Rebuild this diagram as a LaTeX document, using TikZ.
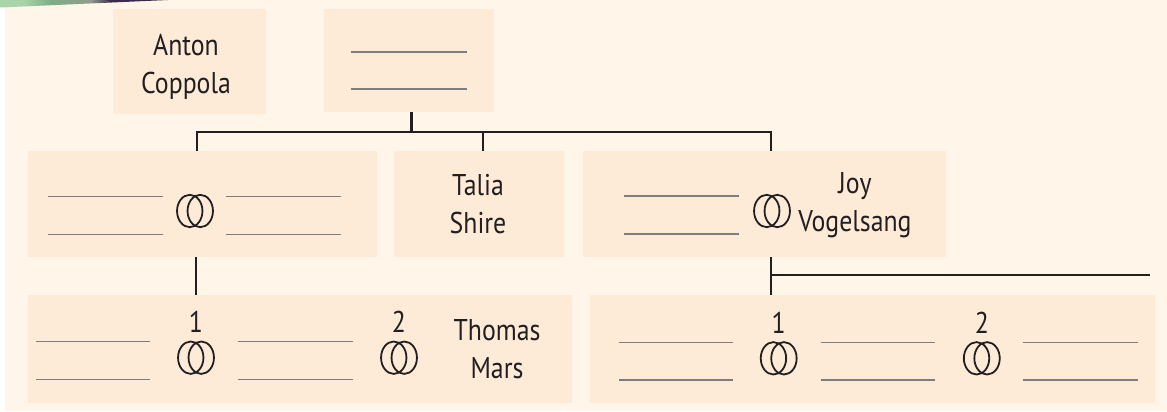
\documentclass[tikz,border=0pt]{standalone}
\usepackage{fontspec}
\setmainfont{PT Sans}[FakeStretch=0.86]
\usetikzlibrary{fit}

\definecolor{paper}{HTML}{FFF5E9}
\definecolor{panel}{HTML}{FDEBD8}
\definecolor{ink}{HTML}{231F20}
\definecolor{rulegray}{HTML}{7D7D7D}
\definecolor{leafA}{HTML}{A9D3A8}
\definecolor{leafB}{HTML}{7FAE86}
\definecolor{leafC}{HTML}{8F9C8C}
\definecolor{plum}{HTML}{3B2C4C}
\definecolor{plumfade}{HTML}{B9AEB8}

\pgfdeclarehorizontalshading{photostrip}{100bp}{%
  color(0bp)=(leafA); color(32bp)=(leafA); color(40bp)=(leafB);
  color(52bp)=(leafC); color(58bp)=(plum); color(88bp)=(plum);
  color(100bp)=(plumfade)}

\newcommand\namefont{\fontsize{30}{38}\selectfont}
% two lines with fixed top/bottom struts so the box centre is predictable
\newcommand\twolines[2]{\rule{0pt}{25pt}#1\\#2\rule[-9pt]{0pt}{9pt}}

\begin{document}
\begin{tikzpicture}[x=1pt,y=-1pt,
  panelbox/.style={fill=panel, draw=none, inner sep=0pt},
  personname/.style={inner sep=0pt, align=center, text=ink, font=\namefont},
  conn/.style={draw=ink, line width=2.3pt},
  blankline/.style={draw=rulegray, line width=1.5pt},
  ringline/.style={draw=ink, line width=1.8pt},
  rings/.pic={
    \draw[ringline] (-5.25pt,0pt) ellipse [x radius=12.7pt, y radius=16.2pt];
    \draw[ringline] (5.25pt,0pt) ellipse [x radius=12.7pt, y radius=16.2pt];
  }]

% page
\fill[paper] (0,0) rectangle (1167,412);
\useasboundingbox (0,0) rectangle (1167,412);
\fill[white] (0,0) rectangle (5,412);
\fill[white] (0,411) rectangle (1167,412);
\shade[shading=photostrip] (0,0) -- (168,0) -- (0,7.5) -- cycle;

% panels
\node[panelbox, fit={(113,9) (266,114)}] (A) {};
\node[panelbox, fit={(324,9) (494,112)}] (B) {};
\node[panelbox, fit={(27.5,151) (377,256.7)}] (C) {};
\node[panelbox, fit={(394,151) (564,256.7)}] (D) {};
\node[panelbox, fit={(583,151) (946,256.7)}] (E) {};
\node[panelbox, fit={(27.5,295) (572,403.3)}] (F) {};
\node[panelbox, fit={(590,295) (1155,403.3)}] (G) {};

% names
\node[personname] (anton) at (186,66) {\twolines{Anton}{Coppola}};
\node[personname] (talia) at (478,206) {\twolines{Talia}{Shire}};
\node[personname] (joy) at (855,204) {\twolines{Joy}{Vogelsang}};
\node[personname] (thomas) at (497,351) {\twolines{Thomas}{Mars}};

% marriage numbers
\node[personname, anchor=base] (numF1) at (196,332.7) {1};
\node[personname, anchor=base] (numF2) at (399,332.7) {2};
\node[personname, anchor=base] (numG1) at (778.7,333) {1};
\node[personname, anchor=base] (numG2) at (981.8,333) {2};

% wedding rings
\pic (ringC) at (195,211) {rings};
\pic (ringE) at (772,211) {rings};
\pic (ringF1) at (196,357.7) {rings};
\pic (ringF2) at (399,357.7) {rings};
\pic (ringG1) at (778.7,358.3) {rings};
\pic (ringG2) at (981.8,358.3) {rings};

% blank lines to fill in
\draw[blankline] (351,52) -- (466.5,52);
\draw[blankline] (351,89) -- (466.5,89);
\draw[blankline] (48,196.7) -- (163,196.7);
\draw[blankline] (48,234.3) -- (163,234.3);
\draw[blankline] (226,196.7) -- (340.6,196.7);
\draw[blankline] (226,234.3) -- (340.6,234.3);
\draw[blankline] (624,196) -- (739,196);
\draw[blankline] (624,234) -- (739,234);
\draw[blankline] (36,341.7) -- (150,341.7);
\draw[blankline] (36,379.3) -- (150,379.3);
\draw[blankline] (238,341.7) -- (353,341.7);
\draw[blankline] (238,379.3) -- (353,379.3);
\draw[blankline] (619,342.7) -- (733,342.7);
\draw[blankline] (619,380) -- (733,380);
\draw[blankline] (820.5,342.7) -- (934.6,342.7);
\draw[blankline] (820.5,380) -- (934.6,380);
\draw[blankline] (1023,342.7) -- (1138,342.7);
\draw[blankline] (1023,380) -- (1138,380);

% connector junctions
\coordinate (stem) at (411.5,132);
\coordinate (barL) at (197,132);
\coordinate (barM) at (483,132);
\coordinate (barR) at (771,132);
\coordinate (dropC) at (196,0);
\coordinate (branch) at (771,275);
\coordinate (branchEnd) at (1149.5,275);

% family lines
\draw[conn] (B.south -| stem) -- (stem);
\draw[conn] (C.north -| barL) -- (barL) -- (barR) -- (E.north -| barR);
\draw[conn] (barM) -- (D.north -| barM);
\draw[conn] (C.south -| dropC) -- (F.north -| dropC);
\draw[conn] (E.south -| barR) -- (G.north -| barR);
\draw[conn] (branch) -- (branchEnd);
\end{tikzpicture}
\end{document}
